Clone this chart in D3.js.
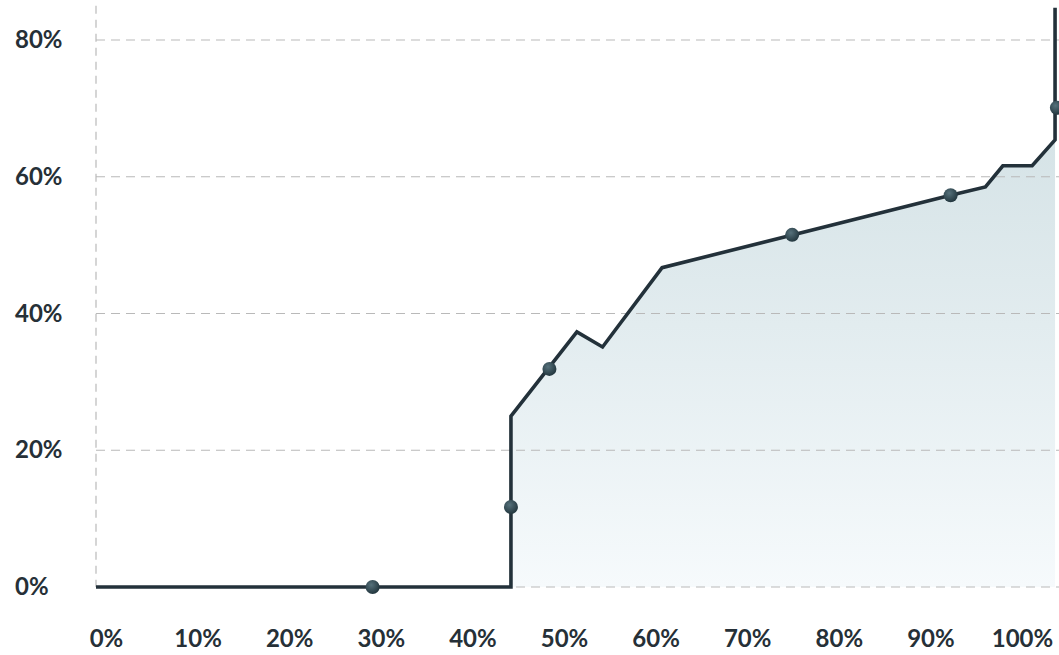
<!DOCTYPE html>
<html>
<head>
<meta charset="utf-8">
<script src="https://cdn.jsdelivr.net/npm/d3@7"></script>
<style>
  html, body { margin: 0; padding: 0; background: #fff; }
  svg { display: block; }
</style>
</head>
<body>
<div id="chart"></div>
<script>
"use strict"

// line vertices, [x %, y %]
const lineX = [0, 45.3, 45.3, 52.5, 55.3, 61.8, 93.3, 97.1, 99.0, 102.2, 104.7, 104.7];
const lineY = [0, 0, 25.0, 37.3, 35.1, 46.7, 57.3, 58.5, 61.6, 61.6, 65.4, 84.7];
// markers sitting on the line
const dotX = [30.2, 45.3, 49.5, 76.0, 93.3, 104.9];
const dotY = [0, 11.7, 31.9, 51.5, 57.3, 70.1];
// tick labels
const xTicks = [0, 10, 20, 30, 40, 50, 60, 70, 80, 90, 100];
const yTicks = [0, 20, 40, 60, 80];

const W = 1059, H = 655;

const svg = d3.select("#chart")
  .append("svg")
  .attr("width", W)
  .attr("height", H);

const x = d3.scaleLinear().domain([0, 100]).range([96, 1012]);
const y = d3.scaleLinear().domain([0, 80]).range([587, 40]);

const defs = svg.append("defs");
const grad = defs.append("linearGradient")
  .attr("id", "fillGrad")
  .attr("gradientUnits", "userSpaceOnUse")
  .attr("x1", 0).attr("x2", 0)
  .attr("y1", y(85)).attr("y2", y(0));
grad.append("stop").attr("offset", "0%").attr("stop-color", "#cddde1");
grad.append("stop").attr("offset", "55%").attr("stop-color", "#e2ecef");
grad.append("stop").attr("offset", "100%").attr("stop-color", "#f6fafc");

const dotGrad = defs.append("radialGradient")
  .attr("id", "dotGrad")
  .attr("cx", "40%").attr("cy", "35%").attr("r", "65%");
dotGrad.append("stop").attr("offset", "0%").attr("stop-color", "#56717b");
dotGrad.append("stop").attr("offset", "100%").attr("stop-color", "#23373f");

const pts = lineX.map((v, i) => [v, lineY[i]]);

// area under the line
svg.append("path")
  .datum(pts)
  .attr("fill", "url(#fillGrad)")
  .attr("d", d3.area()
    .x(d => x(d[0]))
    .y0(y(0))
    .y1(d => y(d[1])));

// horizontal gridlines
svg.append("g")
  .selectAll("line")
  .data(yTicks)
  .join("line")
    .attr("x1", x(0)).attr("x2", W)
    .attr("y1", d => y(d)).attr("y2", d => y(d))
    .attr("stroke", "#b9b9b9")
    .attr("stroke-width", 1.2)
    .attr("stroke-dasharray", "9,6");

// left vertical gridline
svg.append("line")
  .attr("x1", x(0)).attr("x2", x(0))
  .attr("y1", y(85)).attr("y2", y(0))
  .attr("stroke", "#b9b9b9")
  .attr("stroke-width", 1.2)
  .attr("stroke-dasharray", "8,6");

// the line
svg.append("path")
  .datum(pts)
  .attr("fill", "none")
  .attr("stroke", "#23313a")
  .attr("stroke-width", 3.6)
  .attr("stroke-linejoin", "miter")
  .attr("d", d3.line().x(d => x(d[0])).y(d => y(d[1])));

// markers
svg.append("g")
  .selectAll("circle")
  .data(dotX.map((v, i) => [v, dotY[i]]))
  .join("circle")
    .attr("cx", d => x(d[0]))
    .attr("cy", d => y(d[1]))
    .attr("r", 7)
    .attr("fill", "url(#dotGrad)");

// y axis labels
const yAxis = svg.append("g")
  .attr("transform", "translate(15,0)")
  .call(d3.axisRight(y).tickValues(yTicks).tickSize(0).tickPadding(0).tickFormat(d => d + "%"));
yAxis.select(".domain").remove();

// x axis labels
const xAxis = svg.append("g")
  .attr("transform", "translate(10,630)")
  .call(d3.axisBottom(x).tickValues(xTicks).tickSize(0).tickPadding(0).tickFormat(d => d + "%"));
xAxis.select(".domain").remove();

svg.selectAll(".tick text")
  .style("font-family", "Lato, 'Open Sans', sans-serif")
  .style("font-weight", 700)
  .style("font-size", "24px")
  .attr("fill", "#263037");
</script>
</body>
</html>
